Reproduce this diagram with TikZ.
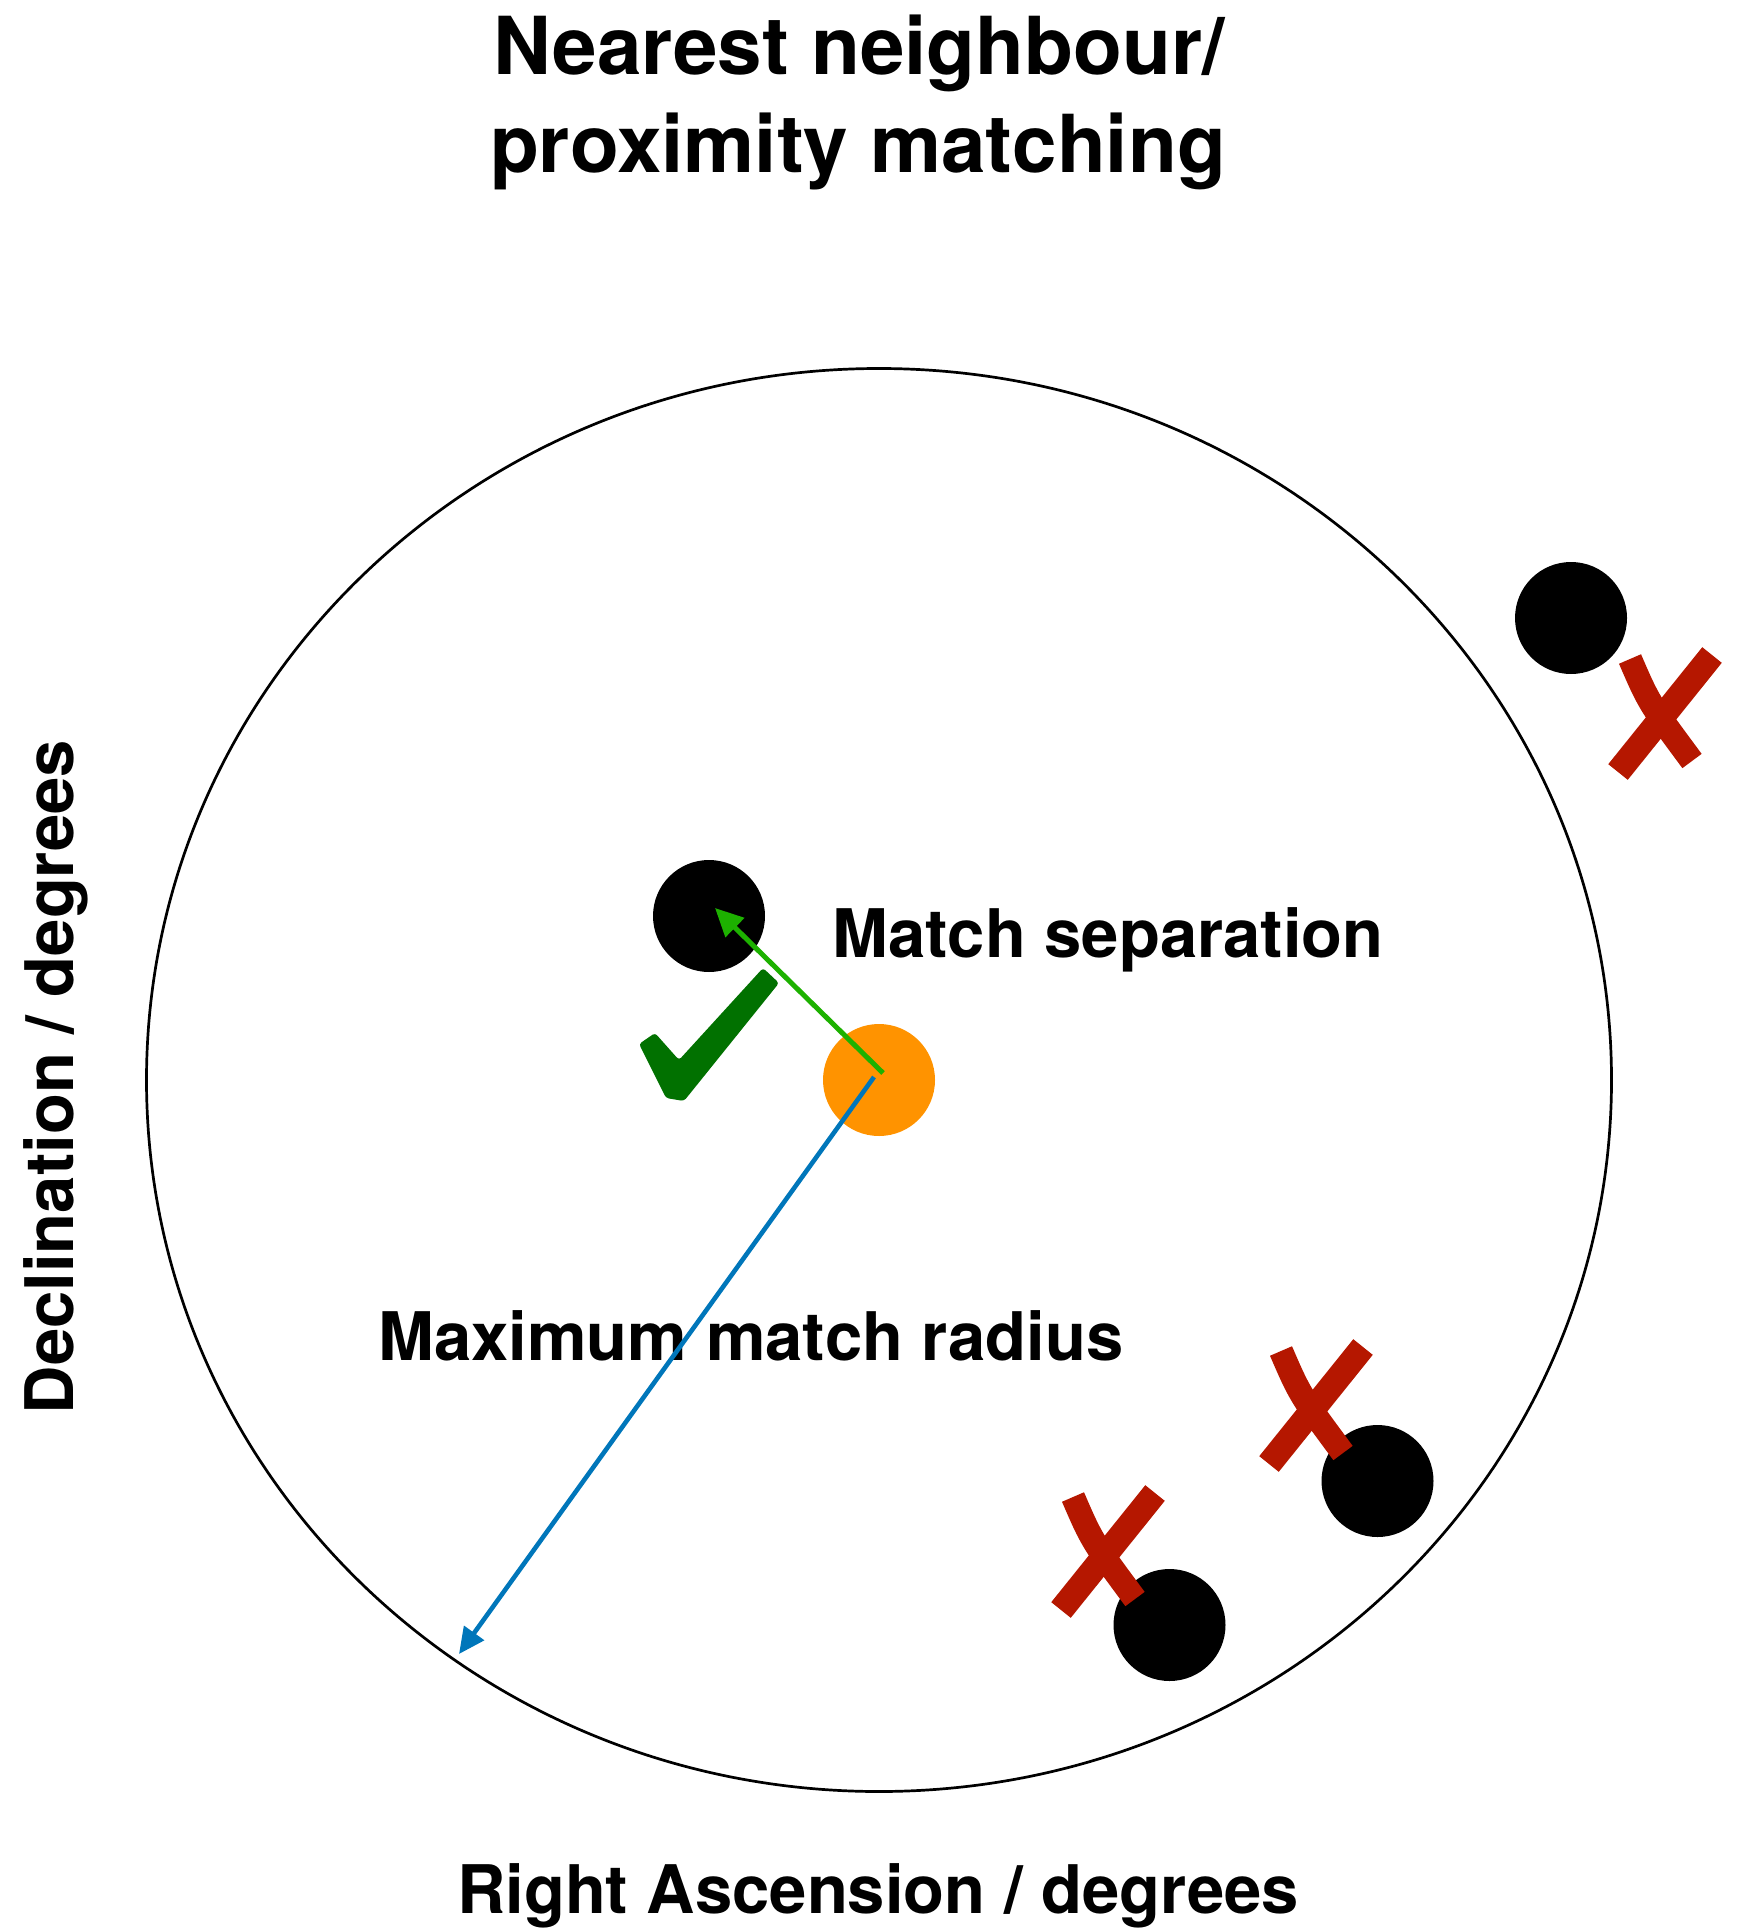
\documentclass[tikz,border=0pt]{standalone}
\usepackage{fontspec}
\setmainfont{TeX Gyre Heros}
\usetikzlibrary{arrows.meta,calc}
\definecolor{kgreen}{RGB}{29,177,0}
\definecolor{kblue}{RGB}{0,118,186}
\definecolor{korange}{RGB}{255,147,0}
\definecolor{kdkgreen}{RGB}{1,113,0}
\definecolor{kred}{RGB}{181,23,0}
\tikzset{
  pics/redx/.style={code={
    \draw[kred, line width=12pt] (-34,-56) .. controls (-15,-12) .. (28,46);
    \draw[kred, line width=12.5pt] (48,-60) -- (-46,57);
  }}
}
\begin{document}
\begin{tikzpicture}[x=0.5pt,y=-0.5pt,
  lbl/.style={inner sep=0pt, font=\fontsize{33.5}{40}\selectfont\bfseries},
  ttl/.style={inner sep=0pt, font=\fontsize{40}{48}\selectfont\bfseries},
  dot/.style={circle, fill=black, draw=none, inner sep=0pt, minimum size=56pt},
  conn/.style={line width=2.5pt}
]
\useasboundingbox (0,0) rectangle (1742,1931);
% outer region
\draw[line width=1.35pt] (879,1080) ellipse [x radius=732.5, y radius=711.5];
% sources
\node[dot, fill=korange] (src) at (879,1080) {};
\node[dot] (m1) at (709,916) {};
\node[dot] (n1) at (1571,618) {};
\node[dot] (n2) at (1377.5,1481) {};
\node[dot] (n3) at (1169.5,1625) {};
% check mark
\fill[kdkgreen, rounded corners=1.5pt] (639,1044) -- (655,1033) -- (679,1060) -- (763,968)
  -- (779,983) -- (684,1101) -- (666,1098) -- cycle;
% crosses
\pic at (1664,715) {redx};
\pic at (1315,1407) {redx};
\pic at (1107,1553) {redx};
% labels
\node[lbl, anchor=base west] (sep) at (832,957) {Match separation};
\node[lbl, anchor=base west] (rad) at (378,1360) {Maximum match radius};
\node[ttl, anchor=base] (t1) at (859,75) {Nearest neighbour/};
\node[ttl, anchor=base] (t2) at (858,173) {proximity matching};
\node[lbl, anchor=base] (ra) at (878,1913) {Right Ascension / degrees};
\node[lbl, anchor=base, rotate=90] (dec) at (73,1077) {Declination / degrees};
% connectors
\draw[conn, kgreen, -{Triangle[length=14pt,width=13pt]}] ($(src.center)+(4,-7)$) -- ($(m1.center)+(6,-8)$);
\draw[conn, kblue, line width=2.3pt, -{Triangle[length=13pt,width=12pt]}] ($(src.center)+(-5,-3)$) -- (459,1654);
\end{tikzpicture}
\end{document}
